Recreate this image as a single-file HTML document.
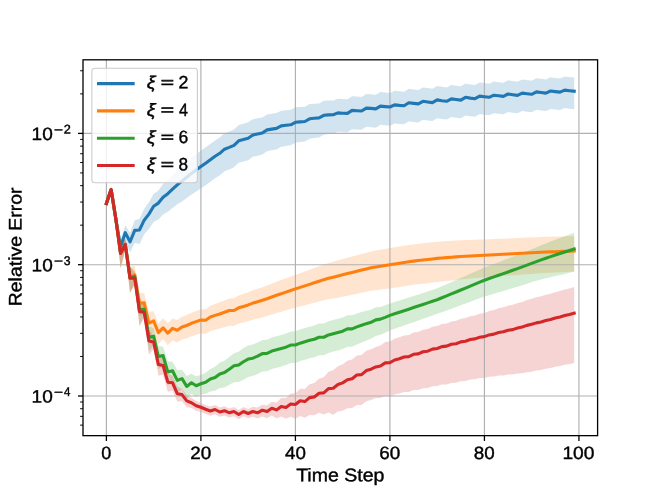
<!DOCTYPE html>
<html><head><meta charset="utf-8"><title>chart</title><style>
html,body{margin:0;padding:0;background:#fff}
body{width:664px;height:498px;position:relative;overflow:hidden;font-family:"Liberation Sans",sans-serif;color:#000}
.t{position:absolute;left:0;top:0;white-space:nowrap;line-height:30px;transform-origin:0 0;-webkit-text-stroke:0.4px #000;filter:grayscale(1)}
</style></head><body>
<svg width="664" height="498" viewBox="0 0 664 498" style="position:absolute;left:0;top:0">
<rect width="664" height="498" fill="#fff"/>
<defs><clipPath id="ax"><rect x="83.0" y="59.76" width="514.6" height="375.74"/></clipPath></defs>
<g clip-path="url(#ax)">
<path d="M106.39,201.81 L111.12,187.91 L115.84,215.68 L120.57,240.24 L125.29,225.13 L130.02,232.85 L134.74,220.24 L139.47,218.66 L144.19,208.86 L148.92,202.30 L153.64,194.03 L158.37,190.38 L163.09,184.12 L167.82,180.07 L172.55,175.12 L177.27,170.28 L182.00,166.14 L186.72,162.02 L191.45,158.00 L196.17,154.29 L200.90,150.77 L205.62,147.37 L210.35,143.97 L215.07,140.47 L219.80,137.47 L224.52,133.37 L229.25,131.57 L233.98,129.47 L238.70,124.97 L243.43,123.67 L248.15,122.37 L252.88,119.16 L257.60,118.34 L262.33,117.43 L267.05,114.42 L271.78,113.70 L276.50,113.09 L281.23,110.68 L285.96,110.16 L290.68,109.75 L295.41,107.34 L300.13,107.03 L304.86,106.71 L309.58,104.10 L314.31,103.69 L319.03,103.38 L323.76,100.87 L328.48,100.56 L333.21,100.55 L337.93,98.73 L342.66,99.12 L347.39,99.32 L352.11,96.32 L356.84,96.62 L361.56,96.92 L366.29,94.02 L371.01,94.32 L375.74,94.82 L380.46,92.02 L385.19,92.52 L389.91,92.92 L394.64,90.85 L399.36,91.37 L404.09,91.69 L408.82,88.81 L413.54,89.43 L418.27,89.96 L422.99,87.38 L427.72,88.10 L432.44,88.72 L437.17,86.05 L441.89,86.87 L446.62,87.49 L451.34,85.11 L456.07,85.74 L460.79,86.36 L465.52,83.58 L470.25,84.40 L474.97,85.03 L479.70,82.45 L484.42,83.07 L489.15,83.67 L493.87,81.57 L498.60,82.17 L503.32,82.77 L508.05,80.37 L512.77,81.07 L517.50,81.77 L522.23,79.47 L526.95,80.07 L531.68,80.67 L536.40,78.27 L541.13,78.87 L545.85,79.47 L550.58,77.37 L555.30,77.97 L560.03,78.47 L564.75,76.47 L569.48,77.07 L574.20,77.57 L574.20,109.15 L569.48,108.65 L564.75,108.05 L560.03,110.05 L555.30,109.55 L550.58,108.95 L545.85,111.05 L541.13,110.45 L536.40,109.85 L531.68,112.25 L526.95,111.65 L522.23,111.05 L517.50,113.35 L512.77,112.65 L508.05,111.95 L503.32,114.35 L498.60,113.75 L493.87,113.15 L489.15,115.25 L484.42,114.65 L479.70,114.08 L474.97,116.72 L470.25,116.16 L465.52,115.40 L460.79,118.24 L456.07,117.68 L451.34,117.12 L446.62,119.56 L441.89,119.00 L437.17,118.24 L432.44,120.98 L427.72,120.42 L422.99,119.76 L418.27,122.40 L413.54,121.93 L408.82,121.37 L404.09,124.31 L399.36,124.05 L394.64,123.59 L389.91,125.73 L385.19,125.33 L380.46,124.83 L375.74,127.63 L371.01,127.13 L366.29,126.83 L361.56,129.73 L356.84,129.43 L352.11,129.13 L347.39,132.13 L342.66,131.93 L337.93,131.79 L333.21,133.85 L328.48,134.11 L323.76,134.67 L319.03,137.43 L314.31,137.99 L309.58,138.65 L304.86,141.51 L300.13,142.08 L295.41,142.64 L290.68,145.30 L285.96,145.97 L281.23,146.73 L276.50,149.39 L271.78,150.26 L267.05,151.22 L262.33,154.49 L257.60,155.66 L252.88,156.72 L248.15,160.19 L243.43,161.49 L238.70,162.79 L233.98,167.29 L229.25,169.39 L224.52,171.19 L219.80,175.29 L215.07,178.29 L210.35,181.79 L205.62,185.19 L200.90,188.59 L196.17,191.47 L191.45,194.56 L186.72,197.95 L182.00,201.44 L177.27,204.33 L172.55,207.93 L167.82,211.65 L163.09,214.47 L158.37,219.50 L153.64,221.95 L148.92,229.00 L144.19,234.37 L139.47,244.17 L134.74,242.77 L130.02,252.43 L125.29,241.20 L120.57,253.99 L115.84,222.53 L111.12,191.34 L106.39,205.24Z" fill="#1f77b4" fill-opacity="0.2" stroke="none"/>
<path d="M106.39,201.81 L111.12,186.55 L115.84,214.61 L120.57,241.20 L125.29,238.57 L130.02,266.16 L134.74,265.85 L139.47,293.10 L144.19,293.36 L148.92,311.76 L153.64,311.36 L158.37,323.16 L163.09,318.36 L167.82,323.28 L172.55,318.48 L177.27,320.12 L182.00,316.76 L186.72,315.10 L191.45,312.75 L196.17,310.89 L200.90,309.13 L205.62,309.14 L210.35,305.75 L215.07,303.97 L219.80,302.28 L224.52,300.50 L229.25,298.51 L233.98,298.33 L238.70,295.44 L243.43,293.86 L248.15,292.18 L252.88,290.24 L257.60,288.72 L262.33,287.20 L267.05,285.53 L271.78,283.65 L276.50,281.76 L281.23,280.03 L285.96,278.29 L290.68,276.56 L295.41,274.82 L300.13,273.13 L304.86,271.44 L309.58,269.75 L314.31,268.02 L319.03,266.26 L323.76,264.49 L328.48,263.04 L333.21,261.72 L337.93,260.34 L342.66,258.97 L347.39,257.69 L352.11,256.42 L356.84,255.14 L361.56,253.89 L366.29,252.68 L371.01,251.48 L375.74,250.54 L380.46,249.68 L385.19,248.90 L389.91,248.11 L394.64,247.34 L399.36,246.56 L404.09,245.79 L408.82,245.01 L413.54,244.43 L418.27,243.84 L422.99,243.29 L427.72,242.77 L432.44,242.24 L437.17,241.71 L441.89,241.42 L446.62,241.12 L451.34,240.83 L456.07,240.53 L460.79,240.24 L465.52,240.08 L470.25,239.93 L474.97,239.78 L479.70,239.62 L484.42,239.47 L489.15,239.26 L493.87,239.06 L498.60,238.85 L503.32,238.64 L508.05,238.44 L512.77,238.23 L517.50,238.01 L522.23,237.80 L526.95,237.59 L531.68,237.37 L536.40,237.16 L541.13,236.96 L545.85,236.75 L550.58,236.65 L555.30,236.54 L560.03,236.44 L564.75,236.34 L569.48,236.24 L574.20,236.14 L574.20,271.44 L569.48,271.68 L564.75,271.92 L560.03,272.16 L555.30,272.40 L550.58,272.64 L545.85,272.88 L541.13,273.23 L536.40,273.58 L531.68,273.93 L526.95,274.27 L522.23,274.61 L517.50,274.95 L512.77,275.29 L508.05,275.62 L503.32,275.96 L498.60,276.29 L493.87,276.62 L489.15,276.96 L484.42,277.29 L479.70,277.70 L474.97,278.11 L470.25,278.52 L465.52,278.93 L460.79,279.34 L456.07,279.89 L451.34,280.44 L446.62,280.99 L441.89,281.54 L437.17,282.09 L432.44,282.62 L427.72,283.15 L422.99,283.68 L418.27,284.23 L413.54,284.81 L408.82,285.39 L404.09,286.17 L399.36,286.94 L394.64,287.72 L389.91,288.49 L385.19,289.02 L380.46,289.55 L375.74,290.16 L371.01,290.83 L366.29,291.78 L361.56,292.73 L356.84,293.73 L352.11,294.75 L347.39,295.77 L342.66,296.79 L337.93,297.66 L333.21,298.52 L328.48,299.34 L323.76,300.29 L319.03,301.55 L314.31,302.82 L309.58,304.05 L304.86,305.24 L300.13,306.44 L295.41,307.63 L290.68,309.00 L285.96,310.36 L281.23,311.72 L276.50,313.09 L271.78,314.61 L267.05,316.12 L262.33,317.42 L257.60,318.58 L252.88,319.73 L248.15,321.30 L243.43,322.50 L238.70,323.60 L233.98,326.00 L229.25,325.70 L224.52,327.20 L219.80,328.51 L215.07,329.71 L210.35,331.02 L205.62,333.93 L200.90,333.44 L196.17,334.80 L191.45,336.26 L186.72,338.22 L182.00,339.49 L177.27,342.45 L172.55,340.42 L167.82,345.22 L163.09,339.12 L158.37,343.92 L153.64,332.12 L148.92,337.27 L144.19,314.12 L139.47,316.22 L134.74,285.43 L130.02,291.67 L125.29,250.01 L120.57,267.90 L115.84,223.75 L111.12,192.83 L106.39,205.24Z" fill="#ff7f0e" fill-opacity="0.2" stroke="none"/>
<path d="M106.39,201.81 L111.12,186.55 L115.84,214.61 L120.57,241.40 L125.29,238.87 L130.02,266.20 L134.74,271.07 L139.47,298.20 L144.19,302.74 L148.92,325.96 L153.64,328.23 L158.37,346.10 L163.09,346.65 L167.82,361.13 L172.55,361.85 L177.27,370.00 L182.00,369.65 L186.72,376.00 L191.45,373.85 L196.17,376.36 L200.90,374.85 L205.62,372.64 L210.35,368.89 L215.07,366.80 L219.80,362.61 L224.52,360.75 L229.25,356.88 L233.98,353.13 L238.70,351.77 L243.43,348.12 L248.15,345.42 L252.88,344.52 L257.60,342.52 L262.33,340.02 L267.05,339.72 L271.78,337.42 L276.50,336.22 L281.23,334.92 L285.96,333.52 L290.68,331.42 L295.41,331.32 L300.13,329.52 L304.86,328.12 L309.58,326.72 L314.31,325.62 L319.03,323.62 L323.76,323.62 L328.48,321.32 L333.21,320.02 L337.93,318.82 L342.66,317.52 L347.39,315.22 L352.11,315.22 L356.84,313.45 L361.56,312.07 L366.29,310.70 L371.01,309.63 L375.74,307.35 L380.46,306.88 L385.19,305.31 L389.91,303.60 L394.64,302.09 L399.36,300.58 L404.09,299.07 L408.82,297.55 L413.54,296.02 L418.27,294.49 L422.99,292.96 L427.72,291.42 L432.44,289.89 L437.17,288.36 L441.89,286.28 L446.62,284.21 L451.34,282.13 L456.07,280.06 L460.79,277.98 L465.52,275.91 L470.25,273.81 L474.97,271.70 L479.70,269.59 L484.42,267.48 L489.15,265.69 L493.87,263.91 L498.60,262.13 L503.32,260.35 L508.05,258.56 L512.77,256.78 L517.50,254.95 L522.23,253.07 L526.95,251.19 L531.68,249.31 L536.40,247.32 L541.13,245.33 L545.85,243.38 L550.58,241.58 L555.30,239.79 L560.03,238.00 L564.75,236.21 L569.48,234.43 L574.20,232.64 L574.20,271.74 L569.48,272.81 L564.75,273.90 L560.03,274.98 L555.30,276.07 L550.58,277.16 L545.85,278.26 L541.13,279.52 L536.40,280.82 L531.68,282.12 L526.95,283.63 L522.23,285.14 L517.50,286.65 L512.77,288.11 L508.05,289.53 L503.32,290.94 L498.60,292.35 L493.87,293.77 L489.15,295.19 L484.42,296.60 L479.70,298.35 L474.97,300.10 L470.25,301.84 L465.52,303.58 L460.79,305.29 L456.07,307.01 L451.34,308.72 L446.62,310.44 L441.89,312.15 L437.17,313.87 L432.44,315.52 L427.72,317.17 L422.99,318.82 L418.27,320.47 L413.54,322.13 L408.82,323.78 L404.09,325.42 L399.36,327.04 L394.64,328.67 L389.91,330.30 L385.19,332.63 L380.46,334.80 L375.74,335.88 L371.01,338.75 L366.29,340.44 L361.56,342.42 L356.84,344.41 L352.11,346.80 L347.39,346.80 L342.66,349.10 L337.93,350.40 L333.21,351.60 L328.48,352.90 L323.76,355.20 L319.03,355.20 L314.31,357.20 L309.58,358.30 L304.86,359.70 L300.13,361.10 L295.41,362.90 L290.68,363.00 L285.96,365.10 L281.23,366.50 L276.50,367.80 L271.78,369.00 L267.05,371.30 L262.33,371.60 L257.60,374.10 L252.88,376.10 L248.15,377.00 L243.43,379.70 L238.70,382.12 L233.98,382.25 L229.25,384.80 L224.52,387.45 L219.80,388.12 L215.07,390.81 L210.35,391.42 L205.62,393.69 L200.90,394.43 L196.17,397.12 L191.45,393.43 L186.72,399.12 L182.00,389.23 L177.27,393.12 L172.55,381.43 L167.82,385.44 L163.09,366.23 L158.37,369.22 L153.64,345.47 L148.92,351.47 L144.19,316.49 L139.47,324.90 L134.74,282.51 L130.02,292.90 L125.29,250.31 L120.57,268.10 L115.84,223.75 L111.12,192.83 L106.39,205.24Z" fill="#2ca02c" fill-opacity="0.2" stroke="none"/>
<path d="M106.39,201.81 L111.12,186.55 L115.84,214.61 L120.57,241.70 L125.29,239.07 L130.02,266.50 L134.74,272.57 L139.47,299.80 L144.19,306.77 L148.92,329.90 L153.64,335.44 L158.37,355.40 L163.09,357.53 L167.82,373.98 L172.55,375.83 L177.27,386.73 L182.00,388.65 L186.72,395.47 L191.45,397.79 L196.17,401.05 L200.90,402.91 L205.62,404.91 L210.35,406.61 L215.07,405.11 L219.80,407.61 L224.52,406.31 L229.25,408.41 L233.98,407.11 L238.70,410.11 L243.43,407.11 L248.15,409.11 L252.88,406.69 L257.60,407.57 L262.33,404.56 L267.05,405.45 L271.78,401.74 L276.50,402.43 L281.23,398.04 L285.96,397.96 L290.68,393.60 L295.41,393.16 L300.13,388.71 L304.86,388.97 L309.58,384.33 L314.31,383.00 L319.03,378.78 L323.76,377.21 L328.48,371.77 L333.21,370.35 L337.93,366.22 L342.66,364.29 L347.39,360.86 L352.11,359.43 L356.84,355.41 L361.56,354.91 L366.29,350.81 L371.01,349.31 L375.74,346.90 L380.46,345.60 L385.19,342.11 L389.91,341.51 L394.64,338.68 L399.36,337.36 L404.09,335.43 L408.82,334.90 L413.54,332.48 L418.27,331.94 L422.99,329.69 L427.72,328.97 L432.44,326.76 L437.17,326.00 L441.89,324.03 L446.62,323.43 L451.34,321.45 L456.07,320.76 L460.79,318.78 L465.52,317.99 L470.25,316.15 L474.97,315.43 L479.70,313.67 L484.42,312.96 L489.15,311.03 L493.87,310.07 L498.60,308.28 L503.32,307.37 L508.05,305.70 L512.77,304.82 L517.50,303.06 L522.23,301.88 L526.95,300.03 L531.68,298.81 L536.40,297.26 L541.13,296.26 L545.85,294.74 L550.58,293.66 L555.30,292.15 L560.03,291.04 L564.75,289.57 L569.48,288.42 L574.20,286.98 L574.20,362.88 L569.48,363.99 L564.75,364.81 L560.03,365.96 L555.30,366.75 L550.58,367.94 L545.85,368.70 L541.13,369.90 L536.40,370.58 L531.68,371.82 L526.95,372.20 L522.23,373.23 L517.50,373.58 L512.77,374.53 L508.05,374.60 L503.32,375.47 L498.60,375.58 L493.87,376.58 L489.15,376.76 L484.42,377.91 L479.70,378.12 L474.97,379.37 L470.25,379.60 L465.52,380.94 L460.79,381.23 L456.07,382.72 L451.34,382.93 L446.62,384.41 L441.89,384.53 L437.17,386.01 L432.44,386.30 L427.72,388.02 L422.99,388.27 L418.27,390.04 L413.54,390.10 L408.82,392.05 L404.09,392.11 L399.36,393.57 L394.64,394.43 L389.91,396.79 L385.19,395.96 L380.46,398.05 L375.74,397.96 L371.01,400.02 L366.29,401.17 L361.56,404.93 L356.84,405.09 L352.11,408.02 L347.39,408.36 L342.66,410.71 L337.93,411.58 L333.21,414.65 L328.48,412.58 L323.76,414.61 L319.03,412.83 L314.31,415.32 L309.58,414.92 L304.86,417.85 L300.13,415.90 L295.41,418.67 L290.68,416.72 L285.96,418.72 L281.23,416.44 L276.50,418.50 L271.78,415.49 L267.05,418.27 L262.33,416.46 L257.60,418.56 L252.88,416.75 L248.15,418.25 L243.43,416.25 L238.70,419.25 L233.98,416.25 L229.25,417.55 L224.52,415.45 L219.80,416.75 L215.07,414.25 L210.35,415.75 L205.62,414.05 L200.90,412.05 L196.17,410.77 L191.45,408.08 L186.72,406.91 L182.00,401.25 L177.27,401.64 L172.55,390.74 L167.82,391.80 L163.09,374.77 L158.37,375.57 L153.64,349.19 L148.92,354.80 L144.19,318.21 L139.47,326.50 L134.74,284.01 L130.02,293.20 L125.29,250.51 L120.57,268.40 L115.84,223.75 L111.12,192.83 L106.39,205.24Z" fill="#d62728" fill-opacity="0.2" stroke="none"/>
<line x1="106.39" x2="106.39" y1="59.76" y2="435.5" stroke="#b0b0b0" stroke-width="1.15"/>
<line x1="200.90" x2="200.90" y1="59.76" y2="435.5" stroke="#b0b0b0" stroke-width="1.15"/>
<line x1="295.41" x2="295.41" y1="59.76" y2="435.5" stroke="#b0b0b0" stroke-width="1.15"/>
<line x1="389.91" x2="389.91" y1="59.76" y2="435.5" stroke="#b0b0b0" stroke-width="1.15"/>
<line x1="484.42" x2="484.42" y1="59.76" y2="435.5" stroke="#b0b0b0" stroke-width="1.15"/>
<line x1="578.93" x2="578.93" y1="59.76" y2="435.5" stroke="#b0b0b0" stroke-width="1.15"/>
<line x1="83.0" x2="597.6" y1="133.40" y2="133.40" stroke="#b0b0b0" stroke-width="1.15"/>
<line x1="83.0" x2="597.6" y1="264.70" y2="264.70" stroke="#b0b0b0" stroke-width="1.15"/>
<line x1="83.0" x2="597.6" y1="396.00" y2="396.00" stroke="#b0b0b0" stroke-width="1.15"/>
<path d="M106.39,203.50 L111.12,189.60 L115.84,219.00 L120.57,246.70 L125.29,232.60 L130.02,241.80 L134.74,230.40 L139.47,230.00 L144.19,220.20 L148.92,214.10 L153.64,206.30 L158.37,203.10 L163.09,197.30 L167.82,193.70 L172.55,189.20 L177.27,184.80 L182.00,181.10 L186.72,177.20 L191.45,173.40 L196.17,169.90 L200.90,166.60 L205.62,163.20 L210.35,159.80 L215.07,156.30 L219.80,153.30 L224.52,149.20 L229.25,147.40 L233.98,145.30 L238.70,140.80 L243.43,139.50 L248.15,138.20 L252.88,134.90 L257.60,134.00 L262.33,133.00 L267.05,129.90 L271.78,129.10 L276.50,128.40 L281.23,125.90 L285.96,125.30 L290.68,124.80 L295.41,122.30 L300.13,121.90 L304.86,121.50 L309.58,118.80 L314.31,118.30 L319.03,117.90 L323.76,115.30 L328.48,114.90 L333.21,114.80 L337.93,112.90 L342.66,113.20 L347.39,113.40 L352.11,110.40 L356.84,110.70 L361.56,111.00 L366.29,108.10 L371.01,108.40 L375.74,108.90 L380.46,106.10 L385.19,106.60 L389.91,107.00 L394.64,104.90 L399.36,105.40 L404.09,105.70 L408.82,102.80 L413.54,103.40 L418.27,103.90 L422.99,101.30 L427.72,102.00 L432.44,102.60 L437.17,99.90 L441.89,100.70 L446.62,101.30 L451.34,98.90 L456.07,99.50 L460.79,100.10 L465.52,97.30 L470.25,98.10 L474.97,98.70 L479.70,96.10 L484.42,96.70 L489.15,97.30 L493.87,95.20 L498.60,95.80 L503.32,96.40 L508.05,94.00 L512.77,94.70 L517.50,95.40 L522.23,93.10 L526.95,93.70 L531.68,94.30 L536.40,91.90 L541.13,92.50 L545.85,93.10 L550.58,91.00 L555.30,91.60 L560.03,92.10 L564.75,90.10 L569.48,90.70 L574.20,91.20" fill="none" stroke="#1f77b4" stroke-width="3.1" stroke-linejoin="round" stroke-linecap="square"/>
<path d="M106.39,203.50 L111.12,189.60 L115.84,219.00 L120.57,253.00 L125.29,244.00 L130.02,277.50 L134.74,274.80 L139.47,303.50 L144.19,302.80 L148.92,323.10 L153.64,320.80 L158.37,332.60 L163.09,327.80 L167.82,333.20 L172.55,328.40 L177.27,330.20 L182.00,327.00 L186.72,325.50 L191.45,323.30 L196.17,321.60 L200.90,320.00 L205.62,320.20 L210.35,317.00 L215.07,315.40 L219.80,313.90 L224.52,312.30 L229.25,310.50 L233.98,310.50 L238.70,307.80 L243.43,306.40 L248.15,304.90 L252.88,303.10 L257.60,301.72 L262.33,300.33 L267.05,298.80 L271.78,297.05 L276.50,295.30 L281.23,293.70 L285.96,292.10 L290.68,290.50 L295.41,288.90 L300.13,287.39 L304.86,285.87 L309.58,284.36 L314.31,282.81 L319.03,281.22 L323.76,279.63 L328.48,278.35 L333.21,277.20 L337.93,276.00 L342.66,274.80 L347.39,273.61 L352.11,272.42 L356.84,271.23 L361.56,270.06 L366.29,268.94 L371.01,267.82 L375.74,266.98 L380.46,266.20 L385.19,265.50 L389.91,264.80 L394.64,264.02 L399.36,263.25 L404.09,262.48 L408.82,261.70 L413.54,261.12 L418.27,260.53 L422.99,259.98 L427.72,259.46 L432.44,258.93 L437.17,258.40 L441.89,258.02 L446.62,257.64 L451.34,257.26 L456.07,256.88 L460.79,256.50 L465.52,256.26 L470.25,256.02 L474.97,255.78 L479.70,255.54 L484.42,255.30 L489.15,255.05 L493.87,254.80 L498.60,254.55 L503.32,254.30 L508.05,254.05 L512.77,253.80 L517.50,253.54 L522.23,253.29 L526.95,253.03 L531.68,252.77 L536.40,252.51 L541.13,252.26 L545.85,252.00 L550.58,251.85 L555.30,251.70 L560.03,251.55 L564.75,251.40 L569.48,251.25 L574.20,251.10" fill="none" stroke="#ff7f0e" stroke-width="3.1" stroke-linejoin="round" stroke-linecap="square"/>
<path d="M106.39,203.50 L111.12,189.60 L115.84,219.00 L120.57,253.20 L125.29,244.30 L130.02,278.00 L134.74,276.50 L139.47,310.00 L144.19,309.20 L148.92,337.30 L153.64,336.20 L158.37,356.50 L163.09,355.60 L167.82,372.00 L172.55,370.80 L177.27,380.40 L182.00,378.60 L186.72,386.40 L191.45,382.80 L196.17,385.80 L200.90,383.80 L205.62,382.20 L210.35,379.05 L215.07,377.55 L219.80,373.95 L224.52,372.55 L229.25,369.15 L233.98,365.85 L238.70,364.95 L243.43,361.75 L248.15,359.05 L252.88,358.15 L257.60,356.15 L262.33,353.65 L267.05,353.35 L271.78,351.05 L276.50,349.85 L281.23,348.55 L285.96,347.15 L290.68,345.05 L295.41,344.95 L300.13,343.15 L304.86,341.75 L309.58,340.35 L314.31,339.25 L319.03,337.25 L323.76,337.25 L328.48,334.95 L333.21,333.65 L337.93,332.45 L342.66,331.15 L347.39,328.85 L352.11,328.85 L356.84,326.85 L361.56,325.25 L366.29,323.65 L371.01,322.35 L375.74,319.85 L380.46,319.15 L385.19,317.35 L389.91,315.40 L394.64,313.84 L399.36,312.29 L404.09,310.73 L408.82,309.17 L413.54,307.59 L418.27,306.01 L422.99,304.43 L427.72,302.86 L432.44,301.28 L437.17,299.70 L441.89,297.76 L446.62,295.83 L451.34,293.89 L456.07,291.95 L460.79,290.02 L465.52,288.08 L470.25,286.12 L474.97,284.15 L479.70,282.17 L484.42,280.20 L489.15,278.55 L493.87,276.91 L498.60,275.26 L503.32,273.62 L508.05,271.97 L512.77,270.32 L517.50,268.63 L522.23,266.88 L526.95,265.13 L531.68,263.39 L536.40,261.64 L541.13,259.90 L545.85,258.19 L550.58,256.64 L555.30,255.09 L560.03,253.55 L564.75,252.00 L569.48,250.45 L574.20,248.90" fill="none" stroke="#2ca02c" stroke-width="3.1" stroke-linejoin="round" stroke-linecap="square"/>
<path d="M106.39,203.50 L111.12,189.60 L115.84,219.00 L120.57,253.50 L125.29,244.50 L130.02,278.30 L134.74,278.00 L139.47,311.60 L144.19,312.20 L148.92,341.00 L153.64,341.90 L158.37,364.60 L163.09,365.50 L167.82,382.20 L172.55,382.80 L177.27,393.70 L182.00,394.60 L186.72,400.90 L191.45,402.70 L196.17,405.70 L200.90,407.30 L205.62,409.30 L210.35,411.00 L215.07,409.50 L219.80,412.00 L224.52,410.70 L229.25,412.80 L233.98,411.50 L238.70,414.50 L243.43,411.50 L248.15,413.50 L252.88,411.50 L257.60,412.80 L262.33,410.20 L267.05,411.50 L271.78,408.20 L276.50,409.90 L281.23,406.50 L285.96,407.40 L290.68,404.00 L295.41,404.50 L300.13,400.70 L304.86,401.60 L309.58,397.60 L314.31,396.90 L319.03,393.30 L323.76,392.90 L328.48,388.60 L333.21,388.30 L337.93,384.50 L342.66,382.90 L347.39,379.80 L352.11,378.70 L356.84,375.00 L361.56,374.60 L366.29,370.60 L371.01,369.20 L375.74,366.90 L380.46,366.00 L385.19,362.90 L389.91,362.70 L394.64,360.00 L399.36,358.80 L404.09,357.00 L408.82,356.60 L413.54,354.30 L418.27,353.89 L422.99,351.77 L427.72,351.17 L432.44,349.09 L437.17,348.45 L441.89,346.61 L446.62,346.13 L451.34,344.28 L456.07,343.71 L460.79,341.85 L465.52,341.19 L470.25,339.47 L474.97,338.87 L479.70,337.24 L484.42,336.65 L489.15,334.91 L493.87,334.13 L498.60,332.53 L503.32,331.81 L508.05,330.32 L512.77,329.63 L517.50,328.05 L522.23,327.06 L526.95,325.38 L531.68,324.35 L536.40,322.86 L541.13,321.94 L545.85,320.48 L550.58,319.48 L555.30,318.04 L560.03,316.99 L564.75,315.59 L569.48,314.50 L574.20,313.14" fill="none" stroke="#d62728" stroke-width="3.1" stroke-linejoin="round" stroke-linecap="square"/>
</g>
<line x1="106.39" x2="106.39" y1="435.5" y2="440.95" stroke="#000" stroke-width="1.3"/>
<line x1="200.90" x2="200.90" y1="435.5" y2="440.95" stroke="#000" stroke-width="1.3"/>
<line x1="295.41" x2="295.41" y1="435.5" y2="440.95" stroke="#000" stroke-width="1.3"/>
<line x1="389.91" x2="389.91" y1="435.5" y2="440.95" stroke="#000" stroke-width="1.3"/>
<line x1="484.42" x2="484.42" y1="435.5" y2="440.95" stroke="#000" stroke-width="1.3"/>
<line x1="578.93" x2="578.93" y1="435.5" y2="440.95" stroke="#000" stroke-width="1.3"/>
<line x1="78.0" x2="83.0" y1="133.40" y2="133.40" stroke="#000" stroke-width="1.3"/>
<line x1="78.0" x2="83.0" y1="264.70" y2="264.70" stroke="#000" stroke-width="1.3"/>
<line x1="78.0" x2="83.0" y1="396.00" y2="396.00" stroke="#000" stroke-width="1.3"/>
<line x1="80.1" x2="83.0" y1="425.13" y2="425.13" stroke="#000" stroke-width="0.95"/>
<line x1="80.1" x2="83.0" y1="416.34" y2="416.34" stroke="#000" stroke-width="0.95"/>
<line x1="80.1" x2="83.0" y1="408.72" y2="408.72" stroke="#000" stroke-width="0.95"/>
<line x1="80.1" x2="83.0" y1="402.01" y2="402.01" stroke="#000" stroke-width="0.95"/>
<line x1="80.1" x2="83.0" y1="356.47" y2="356.47" stroke="#000" stroke-width="0.95"/>
<line x1="80.1" x2="83.0" y1="333.35" y2="333.35" stroke="#000" stroke-width="0.95"/>
<line x1="80.1" x2="83.0" y1="316.95" y2="316.95" stroke="#000" stroke-width="0.95"/>
<line x1="80.1" x2="83.0" y1="304.23" y2="304.23" stroke="#000" stroke-width="0.95"/>
<line x1="80.1" x2="83.0" y1="293.83" y2="293.83" stroke="#000" stroke-width="0.95"/>
<line x1="80.1" x2="83.0" y1="285.04" y2="285.04" stroke="#000" stroke-width="0.95"/>
<line x1="80.1" x2="83.0" y1="277.42" y2="277.42" stroke="#000" stroke-width="0.95"/>
<line x1="80.1" x2="83.0" y1="270.71" y2="270.71" stroke="#000" stroke-width="0.95"/>
<line x1="80.1" x2="83.0" y1="225.17" y2="225.17" stroke="#000" stroke-width="0.95"/>
<line x1="80.1" x2="83.0" y1="202.05" y2="202.05" stroke="#000" stroke-width="0.95"/>
<line x1="80.1" x2="83.0" y1="185.65" y2="185.65" stroke="#000" stroke-width="0.95"/>
<line x1="80.1" x2="83.0" y1="172.93" y2="172.93" stroke="#000" stroke-width="0.95"/>
<line x1="80.1" x2="83.0" y1="162.53" y2="162.53" stroke="#000" stroke-width="0.95"/>
<line x1="80.1" x2="83.0" y1="153.74" y2="153.74" stroke="#000" stroke-width="0.95"/>
<line x1="80.1" x2="83.0" y1="146.12" y2="146.12" stroke="#000" stroke-width="0.95"/>
<line x1="80.1" x2="83.0" y1="139.41" y2="139.41" stroke="#000" stroke-width="0.95"/>
<line x1="80.1" x2="83.0" y1="93.87" y2="93.87" stroke="#000" stroke-width="0.95"/>
<line x1="80.1" x2="83.0" y1="70.75" y2="70.75" stroke="#000" stroke-width="0.95"/>
<rect x="83.0" y="59.809999999999995" width="514.6" height="375.84000000000003" fill="none" stroke="#000" stroke-width="1.3"/>
<rect x="91.85" y="68.3" width="105.55" height="114.4" rx="3.3" ry="3.3" fill="#fff" fill-opacity="0.8" stroke="#ccc" stroke-width="1.1"/>
<line x1="98.56" x2="133.14" y1="83.6" y2="83.6" stroke="#1f77b4" stroke-width="3.1" stroke-linecap="square"/>
<line x1="98.56" x2="133.14" y1="110.89999999999999" y2="110.89999999999999" stroke="#ff7f0e" stroke-width="3.1" stroke-linecap="square"/>
<line x1="98.56" x2="133.14" y1="138.2" y2="138.2" stroke="#2ca02c" stroke-width="3.1" stroke-linecap="square"/>
<line x1="98.56" x2="133.14" y1="165.5" y2="165.5" stroke="#d62728" stroke-width="3.1" stroke-linecap="square"/>
</svg>
<div class="t" style="font-size:17.8px;transform:translate(101.27px,438.10px) rotate(0.03deg) scaleX(1.0118)">0</div>
<div class="t" style="font-size:17.8px;transform:translate(190.20px,438.10px) rotate(0.03deg) scaleX(1.0604)">20</div>
<div class="t" style="font-size:17.8px;transform:translate(285.03px,438.10px) rotate(0.03deg) scaleX(1.0540)">40</div>
<div class="t" style="font-size:17.8px;transform:translate(379.22px,438.10px) rotate(0.03deg) scaleX(1.0604)">60</div>
<div class="t" style="font-size:17.8px;transform:translate(473.82px,438.10px) rotate(0.03deg) scaleX(1.0581)">80</div>
<div class="t" style="font-size:17.8px;transform:translate(562.44px,438.10px) rotate(0.03deg) scaleX(1.0802)">100</div>
<div class="t" style="font-size:17.8px;transform:translate(31.57px,119.00px) rotate(0.03deg) scaleX(1.0701)">10</div>
<div class="t" style="font-size:12.6px;transform:translate(54.13px,115.00px) rotate(0.03deg) scaleX(1.2273)">&#8722;</div>
<div class="t" style="font-size:12.6px;transform:translate(63.66px,114.60px) rotate(0.03deg) scaleX(1.0117)">2</div>
<div class="t" style="font-size:17.8px;transform:translate(31.57px,250.30px) rotate(0.03deg) scaleX(1.0701)">10</div>
<div class="t" style="font-size:12.6px;transform:translate(54.13px,246.30px) rotate(0.03deg) scaleX(1.2273)">&#8722;</div>
<div class="t" style="font-size:12.6px;transform:translate(63.84px,245.90px) rotate(0.03deg) scaleX(0.9691)">3</div>
<div class="t" style="font-size:17.8px;transform:translate(31.57px,381.60px) rotate(0.03deg) scaleX(1.0701)">10</div>
<div class="t" style="font-size:12.6px;transform:translate(54.13px,377.60px) rotate(0.03deg) scaleX(1.2273)">&#8722;</div>
<div class="t" style="font-size:12.6px;transform:translate(64.04px,377.20px) rotate(0.03deg) scaleX(0.9115)">4</div>
<div class="t" style="font-size:18.2px;transform:translate(296.16px,460.30px) rotate(0.03deg) scaleX(1.0736)">Time Step</div>
<div class="t" style="font-size:18.2px;transform:translate(0.50px,306.20px) rotate(-89.97deg) scaleX(1.0678)">Relative Error</div>
<div class="t" style="font-style:italic;font-size:17.8px;transform:translate(146.66px,67.60px) rotate(0.03deg) scaleX(1.1052)">&#958;</div>
<div class="t" style="-webkit-text-stroke:0.65px #000;font-size:15.0px;transform:translate(160.87px,67.60px) rotate(0.03deg) scaleX(1.5120)">=</div>
<div class="t" style="font-size:17.8px;transform:translate(178.41px,67.30px) rotate(0.03deg) scaleX(1.0001)">2</div>
<div class="t" style="font-style:italic;font-size:17.8px;transform:translate(146.66px,94.93px) rotate(0.03deg) scaleX(1.1052)">&#958;</div>
<div class="t" style="-webkit-text-stroke:0.65px #000;font-size:15.0px;transform:translate(160.87px,94.93px) rotate(0.03deg) scaleX(1.5120)">=</div>
<div class="t" style="font-size:17.8px;transform:translate(178.94px,94.63px) rotate(0.03deg) scaleX(0.9011)">4</div>
<div class="t" style="font-style:italic;font-size:17.8px;transform:translate(146.66px,122.26px) rotate(0.03deg) scaleX(1.1052)">&#958;</div>
<div class="t" style="-webkit-text-stroke:0.65px #000;font-size:15.0px;transform:translate(160.87px,122.26px) rotate(0.03deg) scaleX(1.5120)">=</div>
<div class="t" style="font-size:17.8px;transform:translate(178.42px,121.96px) rotate(0.03deg) scaleX(0.9839)">6</div>
<div class="t" style="font-style:italic;font-size:17.8px;transform:translate(146.66px,149.59px) rotate(0.03deg) scaleX(1.1052)">&#958;</div>
<div class="t" style="-webkit-text-stroke:0.65px #000;font-size:15.0px;transform:translate(160.87px,149.59px) rotate(0.03deg) scaleX(1.5120)">=</div>
<div class="t" style="font-size:17.8px;transform:translate(178.57px,149.29px) rotate(0.03deg) scaleX(0.9682)">8</div>
</body></html>
